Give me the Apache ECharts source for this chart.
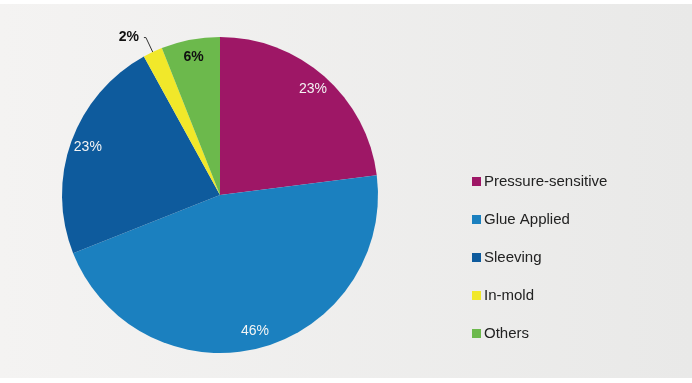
<!DOCTYPE html>
<html>
<head>
<meta charset="utf-8">
<script src="https://cdn.jsdelivr.net/npm/echarts@6/dist/echarts.min.js"></script>
<style>html,body{margin:0;padding:0;background:#fff}#c{width:692px;height:383px}</style>
</head>
<body>
<div id="c"></div>
<script>
const categories = ['Pressure-sensitive', 'Glue Applied', 'Sleeving', 'In-mold', 'Others'];
const values = [23, 46, 23, 2, 6];
const colors = ['#9e1766', '#1b80bf', '#0e5b9d', '#f1e82a', '#6cb94c'];

const chart = echarts.init(document.getElementById('c'), null, {renderer: 'canvas'});
const R = 158;
const center = [220, 195];

const mainData = categories.map((n, i) => ({
  name: n, value: values[i], itemStyle: {color: colors[i]},
  label: n === 'In-mold' ? {show: true, position: 'outside', color: '#111', fontWeight: 'bold', fontSize: 14, formatter: '{c}%'} : {show: false},
  labelLine: n === 'In-mold' ? {show: true, length: 16, length2: 2, lineStyle: {color: '#333', width: 1}} : {show: false}
}));
const labelData = categories.map((n, i) => {
  const dark = n === 'Others';
  return {
    name: n, value: values[i],
    label: {show: n !== 'In-mold', color: dark ? '#111' : '#f4f4f4', fontWeight: dark ? 'bold' : 'normal', fontSize: 14, formatter: '{c}%'}
  };
});

chart.setOption({
  animation: false,
  backgroundColor: {type: 'linear', x: 0, y: 0, x2: 1, y2: 0, colorStops: [{offset: 0, color: '#f4f3f2'}, {offset: 1, color: '#e9e9e8'}]},
  graphic: [
    {type: 'rect', shape: {x: 0, y: 0, width: 692, height: 4}, style: {fill: '#ffffff'}, silent: true, z: -10},
    {type: 'rect', shape: {x: 0, y: 378, width: 692, height: 5}, style: {fill: '#ffffff'}, silent: true, z: -10}
  ],
  legend: {
    orient: 'vertical', left: 467, top: 169, itemGap: 23,
    itemWidth: 9, itemHeight: 9, icon: 'rect',
    textStyle: {fontSize: 15, color: '#222', fontFamily: 'Liberation Sans, Arial, sans-serif', padding: [0, 0, 0, -2]},
    data: categories
  },
  series: [
    {
      type: 'pie', center: center, radius: [0, R], startAngle: 90, clockwise: true,
      avoidLabelOverlap: false, silent: true,
      label: {fontFamily: 'Liberation Sans, Arial, sans-serif'},
      data: mainData
    },
    {
      type: 'pie', center: center, radius: [0, R * 1.74], startAngle: 90, clockwise: true,
      avoidLabelOverlap: false, silent: true, legendHoverLink: false,
      itemStyle: {color: 'rgba(0,0,0,0)'},
      label: {position: 'inside', fontFamily: 'Liberation Sans, Arial, sans-serif'},
      labelLine: {show: false},
      data: labelData
    }
  ]
});
</script>
</body>
</html>
